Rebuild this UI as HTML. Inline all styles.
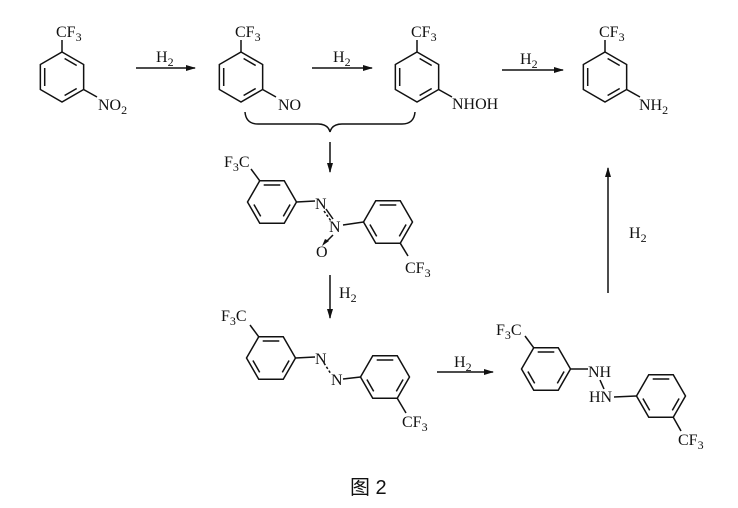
<!DOCTYPE html>
<html><head><meta charset="utf-8"><style>
html,body{margin:0;padding:0;background:#fff;}
svg{display:block;}
text{font-family:"Liberation Serif",serif;font-size:16px;fill:#111;}
.cap{font-family:"Liberation Sans","Noto Sans CJK SC",sans-serif;font-size:20px;}
</style></head><body>
<svg width="738" height="508" viewBox="0 0 738 508" xmlns="http://www.w3.org/2000/svg">
<defs>
<g id="hp" fill="none" stroke="#111" stroke-width="1.5">
<polygon points="0,-25 21.65,-12.5 21.65,12.5 0,25 -21.65,12.5 -21.65,-12.5"/>
<line x1="-17.3" y1="-9" x2="-17.3" y2="9"/>
<line x1="2.6" y1="-18.5" x2="14.7" y2="-11.5"/>
<line x1="14.7" y1="11.5" x2="2.6" y2="18.5"/>
</g>
<g id="hf" fill="none" stroke="#111" stroke-width="1.5">
<polygon points="24.5,0 12.25,21.2 -12.25,21.2 -24.5,0 -12.25,-21.2 12.25,-21.2"/>
<line x1="-8.3" y1="-17" x2="8.3" y2="-17"/>
<line x1="-18.1" y1="2.5" x2="-11.3" y2="14.4"/>
<line x1="18.1" y1="2.5" x2="11.3" y2="14.4"/>
</g>
<marker id="ah" markerWidth="10" markerHeight="8" refX="9" refY="4" orient="auto" markerUnits="userSpaceOnUse">
<path d="M0,1 L10,4 L0,7 Z" fill="#111"/>
</marker>
</defs>
<g stroke="#111" stroke-width="1.5" fill="none">
<use href="#hp" x="62" y="77"/>
<line x1="62" y1="52" x2="62" y2="40"/>
<line x1="83.6" y1="89.5" x2="97" y2="97"/>
<use href="#hp" x="241" y="77"/>
<line x1="241" y1="52" x2="241" y2="40"/>
<line x1="262.6" y1="89.5" x2="276" y2="97"/>
<use href="#hp" x="417" y="77"/>
<line x1="417" y1="52" x2="417" y2="40"/>
<line x1="438.6" y1="89.5" x2="452" y2="97"/>
<use href="#hp" x="605" y="77"/>
<line x1="605" y1="52" x2="605" y2="40"/>
<line x1="626.6" y1="89.5" x2="640" y2="97"/>
<line x1="136" y1="68" x2="195" y2="68" marker-end="url(#ah)"/>
<line x1="312" y1="68" x2="372" y2="68" marker-end="url(#ah)"/>
<line x1="502" y1="70" x2="563" y2="70" marker-end="url(#ah)"/>
<path d="M245,112 Q246,124 258,124 L318,124 Q328,124 330,132 Q332,124 342,124 L402,124 Q414,124 415,112"/>
<line x1="330" y1="142" x2="330" y2="172" marker-end="url(#ah)"/>
<use href="#hf" x="272" y="202"/>
<line x1="259.75" y1="180.8" x2="251" y2="169"/>
<line x1="296.5" y1="202" x2="315" y2="201"/>
<line x1="324" y1="211" x2="331" y2="221" stroke-dasharray="2.5,2"/>
<line x1="326" y1="209" x2="333" y2="219"/>
<line x1="343" y1="225" x2="363.5" y2="222"/>
<use href="#hf" x="388" y="222"/>
<line x1="400.25" y1="243.2" x2="408" y2="256"/>
<line x1="333" y1="235" x2="326" y2="242"/>
<line x1="330" y1="275" x2="330" y2="318" marker-end="url(#ah)"/>
<use href="#hf" x="271" y="358"/>
<line x1="258.75" y1="336.8" x2="250" y2="325"/>
<line x1="295.5" y1="358" x2="315" y2="357"/>
<line x1="324" y1="363" x2="331" y2="374" stroke-dasharray="2.5,2"/>
<line x1="343" y1="379" x2="360.5" y2="377"/>
<use href="#hf" x="385" y="377"/>
<line x1="397.25" y1="398.2" x2="406" y2="413"/>
<line x1="437" y1="372" x2="493" y2="372" marker-end="url(#ah)"/>
<use href="#hf" x="546" y="369"/>
<line x1="533.75" y1="347.8" x2="525" y2="336"/>
<line x1="570.5" y1="369" x2="588" y2="369"/>
<line x1="600" y1="380" x2="604" y2="389"/>
<line x1="614" y1="397" x2="636.5" y2="396"/>
<use href="#hf" x="661" y="396"/>
<line x1="673.25" y1="417.2" x2="681" y2="431"/>
<line x1="608" y1="293" x2="608" y2="168" marker-end="url(#ah)"/>
</g>
<path d="M322,246 L329,241 L325,239 Z" fill="#111"/>
<text x="56" y="37">CF<tspan font-size="12" dy="4">3</tspan></text>
<text x="98" y="110">NO<tspan font-size="12" dy="4">2</tspan></text>
<text x="235" y="37">CF<tspan font-size="12" dy="4">3</tspan></text>
<text x="278" y="110">NO</text>
<text x="411" y="37">CF<tspan font-size="12" dy="4">3</tspan></text>
<text x="452" y="109">NHOH</text>
<text x="599" y="37">CF<tspan font-size="12" dy="4">3</tspan></text>
<text x="639" y="110">NH<tspan font-size="12" dy="4">2</tspan></text>
<text x="156" y="62">H<tspan font-size="12" dy="4">2</tspan></text>
<text x="333" y="62">H<tspan font-size="12" dy="4">2</tspan></text>
<text x="520" y="64">H<tspan font-size="12" dy="4">2</tspan></text>
<text x="224" y="167">F<tspan font-size="12" dy="4">3</tspan><tspan dy="-4">C</tspan></text>
<text x="315" y="209">N</text>
<text x="329" y="232">N</text>
<text x="316" y="257">O</text>
<text x="405" y="273">CF<tspan font-size="12" dy="4">3</tspan></text>
<text x="339" y="298">H<tspan font-size="12" dy="4">2</tspan></text>
<text x="221" y="321">F<tspan font-size="12" dy="4">3</tspan><tspan dy="-4">C</tspan></text>
<text x="315" y="364">N</text>
<text x="331" y="385">N</text>
<text x="402" y="427">CF<tspan font-size="12" dy="4">3</tspan></text>
<text x="454" y="367">H<tspan font-size="12" dy="4">2</tspan></text>
<text x="496" y="335">F<tspan font-size="12" dy="4">3</tspan><tspan dy="-4">C</tspan></text>
<text x="588" y="377">NH</text>
<text x="589" y="402">HN</text>
<text x="678" y="445">CF<tspan font-size="12" dy="4">3</tspan></text>
<text x="629" y="238">H<tspan font-size="12" dy="4">2</tspan></text>
<text class="cap" x="350" y="494">图 2</text>
</svg>
</body></html>
